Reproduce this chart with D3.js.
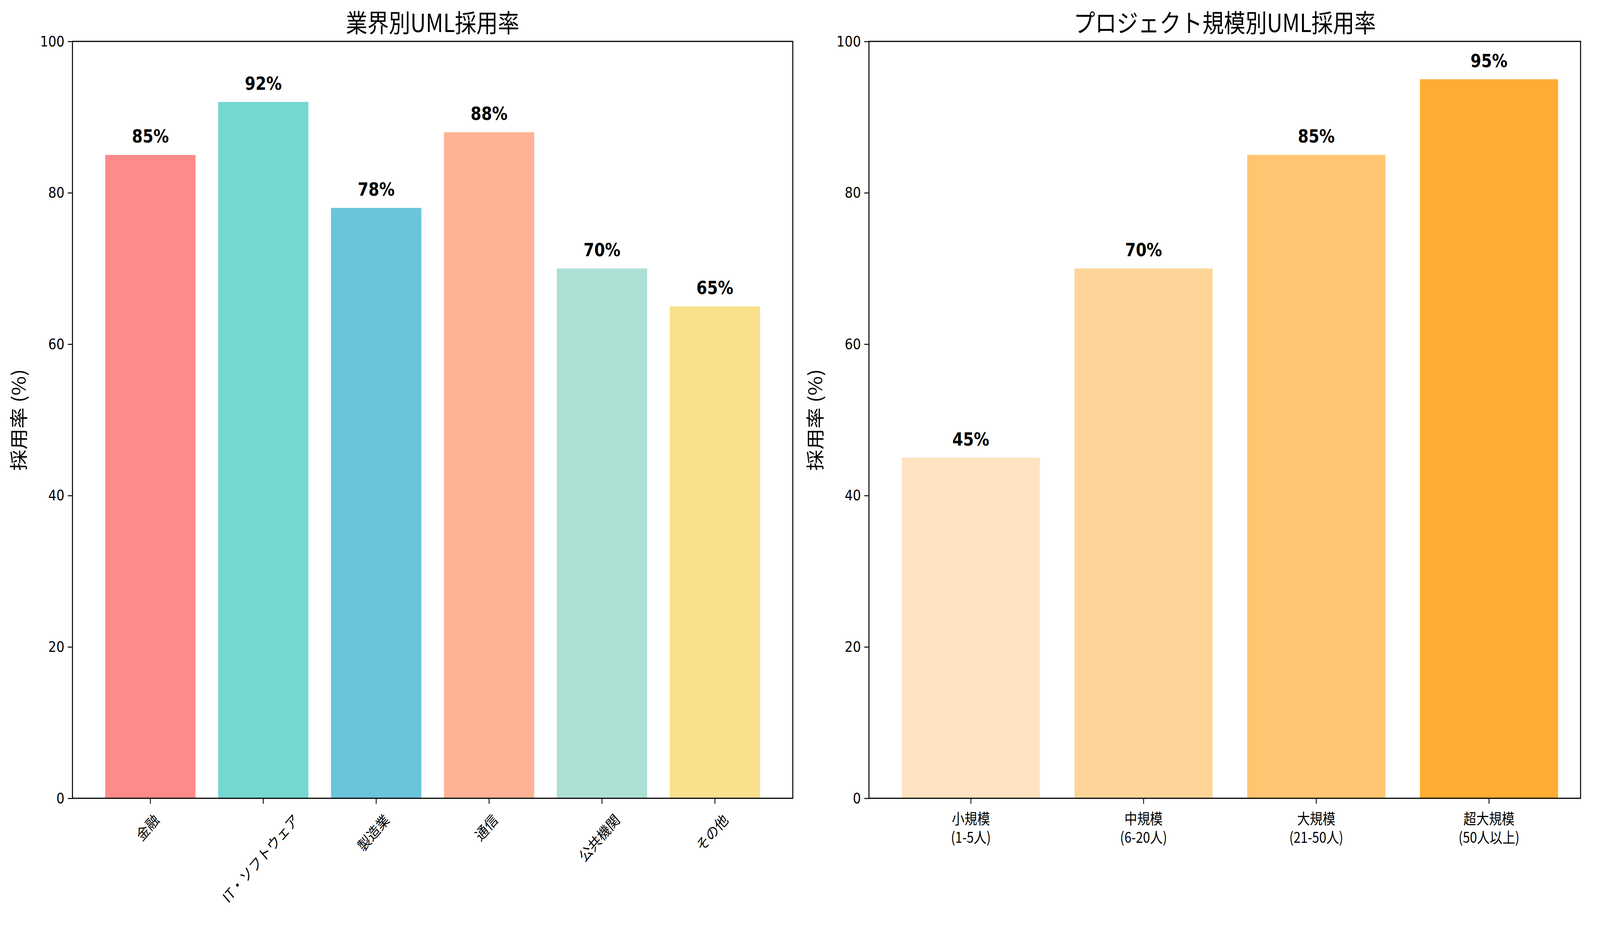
<!DOCTYPE html>
<html><head><meta charset="utf-8">
<script src="https://cdn.jsdelivr.net/npm/d3@7"></script>
<style>html,body{margin:0;padding:0;background:#fff;overflow:hidden;width:100%;height:100%}svg{display:block;width:100vw;height:100vh}</style>
</head><body>
<script>
const industries = ["金融","IT・ソフトウェア","製造業","通信","公共機関","その他"];
const industryRates = [85,92,78,88,70,65];
const industryColors = ["#FF8A8A","#74D7D0","#6AC4DA","#FFB394","#ADE0D4","#F8E08C"];
const sizes = [["小規模","(1-5人)"],["中規模","(6-20人)"],["大規模","(21-50人)"],["超大規模","(50人以上)"]];
const sizeRates = [45,70,85,95];
const sizeColors = ["#FFE3C0","#FDD598","#FFC570","#FFAC33"];
const yTicks = [0,20,40,60,80,100];
const titles = ["業界別UML採用率","プロジェクト規模別UML採用率"];

const W=4769,H=2371;
const svg=d3.select("body").append("svg").attr("viewBox",`0 0 ${W} ${H}`).attr("preserveAspectRatio","none");
const JP="'Noto Sans CJK JP','DejaVu Sans',sans-serif";
const NUM="'DejaVu Sans',sans-serif";
const y=d3.scaleLinear().domain([0,100]).range([2044,106]);

function panel(x0,x1,dom,cats,vals,cols,title,rot){
  const x=d3.scaleLinear().domain(dom).range([x0,x1]);
  const g=svg.append("g");
  const bw=x(0.8)-x(0);
  g.selectAll("rect").data(vals).enter().append("rect")
    .attr("x",(d,i)=>x(i-0.4)).attr("width",bw)
    .attr("y",d=>y(d)).attr("height",d=>y(0)-y(d)).attr("fill",(d,i)=>cols[i]);
  g.selectAll("text.v").data(vals).enter().append("text").attr("class","v")
    .attr("x",(d,i)=>x(i)).attr("y",d=>y(d+1)-12).attr("text-anchor","middle")
    .attr("font-family",NUM).attr("font-weight","bold").attr("font-size",46).text(d=>d+"%");
  const ya=g.append("g").attr("transform",`translate(${x0},0)`).call(d3.axisLeft(y).tickValues(yTicks).tickSize(14).tickPadding(10));
  ya.selectAll("text").attr("font-family",NUM).attr("font-size",38).attr("fill","#000");
  ya.selectAll("line").attr("stroke","#000").attr("stroke-width",2.5);
  ya.select(".domain").remove();
  g.append("rect").attr("x",x0).attr("y",y(100)).attr("width",x1-x0).attr("height",y(0)-y(100))
    .attr("fill","none").attr("stroke","#000").attr("stroke-width",3);
  const idx=d3.range(cats.length);
  g.selectAll("line.xt").data(idx).enter().append("line")
    .attr("x1",i=>x(i)).attr("x2",i=>x(i)).attr("y1",y(0)).attr("y2",y(0)+14).attr("stroke","#000").attr("stroke-width",2.5);
  if(rot){
    idx.forEach(i=>{
      const t=g.append("text").attr("font-family",JP).attr("font-size",38).attr("text-anchor","middle")
        .attr("dominant-baseline","central").text(cats[i]);
      const w=t.node().getComputedTextLength();
      const hh=(w+40)*Math.SQRT1_2/2;
      t.attr("transform",`translate(${x(i)-10},${y(0)+32+hh}) rotate(-45)`);
    });
  } else {
    idx.forEach(i=>{
      cats[i].forEach((s,k)=>g.append("text").attr("font-family",JP).attr("font-size",38)
        .attr("text-anchor","middle").attr("x",x(i)).attr("y",y(0)+66+k*48).text(s));
    });
  }
  g.append("text").attr("x",(x0+x1)/2).attr("y",82).attr("text-anchor","middle")
    .attr("font-family",JP).attr("font-size",64).text(title);
  g.append("text").attr("transform",`translate(${x0-140},${(y(0)+y(100))/2}) rotate(-90)`)
    .attr("text-anchor","middle").attr("font-family",JP).attr("font-size",54).text("採用率 (%)");
}
panel(216,2363,[-0.69,5.69],industries,industryRates,industryColors,titles[0],true);
panel(2590,4711,[-0.59,3.53],sizes,sizeRates,sizeColors,titles[1],false);
</script>
</body></html>
